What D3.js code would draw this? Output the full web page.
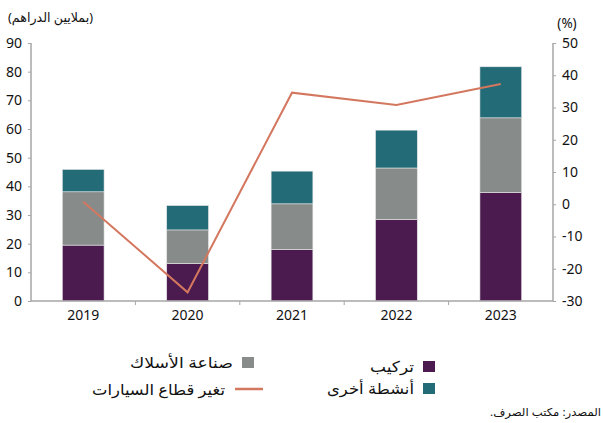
<!DOCTYPE html>
<html>
<head>
<meta charset="utf-8">
<script src="https://cdn.jsdelivr.net/npm/d3@7"></script>
<style>
  body { margin: 0; background: #fff; }
  svg text { font-family: "Noto Sans", "DejaVu Sans", sans-serif; }
</style>
</head>
<body>
<div id="chart"></div>
<script>
(function () {
    // data
    const years = ["2019", "2020", "2021", "2022", "2023"];
    const assembly = [19.5, 13.1, 18.0, 28.5, 37.9];   // تركيب
    const wiring = [18.6, 11.7, 15.9, 17.9, 26.0];     // صناعة الأسلاك
    const other = [7.8, 8.5, 11.4, 13.2, 17.8];        // أنشطة أخرى
    const autoChange = [0.8, -27.3, 34.6, 30.8, 37.3]; // تغير قطاع السيارات (%)
    const leftTicks = [0, 10, 20, 30, 40, 50, 60, 70, 80, 90];
    const rightTicks = [-30, -20, -10, 0, 10, 20, 30, 40, 50];

    const seriesNames = ["تركيب", "صناعة الأسلاك", "أنشطة أخرى"];
    const colors = ["#4b1b50", "#878b8a", "#226b77"];
    const lineColor = "#d4775f";
    const axisColor = "#a6a6a6";

    const width = 603, height = 423;
    const left = 31, right = 553, top = 43, bottom = 301;

    const rows = years.map((y, i) => ({ year: y, a: assembly[i], w: wiring[i], o: other[i] }));
    const stack = d3.stack().keys(["a", "w", "o"])(rows);

    const x = d3.scaleBand().domain(years).range([left, right]).paddingInner(0.6).paddingOuter(0.3);
    const xb = d3.scaleBand().domain(years).range([left, right]);
    const y = d3.scaleLinear().domain([0, 90]).range([bottom, top]);
    const y2 = d3.scaleLinear().domain([-30, 50]).range([bottom, top]);

    const svg = d3.select("#chart").append("svg").attr("width", width).attr("height", height);

    // bars
    svg.append("g")
        .selectAll("g")
        .data(stack)
        .join("g")
        .attr("fill", (d, i) => colors[i])
        .selectAll("rect")
        .data(d => d)
        .join("rect")
        .attr("x", d => x(d.data.year))
        .attr("width", x.bandwidth())
        .attr("y", d => y(d[1]))
        .attr("height", d => y(d[0]) - y(d[1]))
        .attr("stroke", "#e6e6e6")
        .attr("stroke-width", 0.6);

    // axes
    const fmt = d => String(d);
    const gl = svg.append("g").attr("transform", `translate(${left},0)`)
        .call(d3.axisLeft(y).tickValues(leftTicks).tickFormat(fmt).tickSize(3).tickPadding(6));
    const gr = svg.append("g").attr("transform", `translate(${right},0)`)
        .call(d3.axisRight(y2).tickValues(rightTicks).tickFormat(fmt).tickSize(3).tickPadding(6));
    const gb = svg.append("g").attr("transform", `translate(0,${bottom})`)
        .call(d3.axisBottom(xb).tickSize(0).tickPadding(9));
    gb.selectAll(".bound")
        .data(years.slice(1))
        .join("line")
        .attr("class", "bound")
        .attr("x1", d => xb(d)).attr("x2", d => xb(d))
        .attr("y1", 0).attr("y2", 4)
        .attr("stroke", axisColor);

    [gl, gr, gb].forEach(g => {
        g.selectAll(".domain").attr("stroke", axisColor).attr("stroke-width", 1.5);
        g.selectAll(".tick line").attr("stroke", axisColor);
        g.selectAll("text").attr("font-size", 14).attr("fill", "#111");
    });
    gl.select(".domain").attr("d", `M0,${top}V${bottom}`);
    gr.select(".domain").attr("d", `M0,${top}V${bottom}`);
    gb.select(".domain").attr("d", `M${left},0H${right}`);

    // line
    const line = d3.line()
        .x((d, i) => x(years[i]) + x.bandwidth() / 2)
        .y(d => y2(d));
    svg.append("path")
        .datum(autoChange)
        .attr("d", line)
        .attr("fill", "none")
        .attr("stroke", lineColor)
        .attr("stroke-width", 2);

    // arabic text helper, right edge at xr
    const arText = (sel, xr, yb, size, w, s) => sel.append("text")
        .attr("x", xr).attr("y", yb)
        .attr("direction", "rtl").attr("text-anchor", "start")
        .attr("font-family", "'DejaVu Sans', sans-serif")
        .attr("font-size", size).attr("fill", "#111")
        .attr("textLength", w).attr("lengthAdjust", "spacingAndGlyphs")
        .text(s);

    // unit labels
    arText(svg, 93, 22, 13, 85, "(بملايين الدراهم)");
    svg.append("text").attr("x", 567).attr("y", 28)
        .attr("text-anchor", "middle")
        .attr("font-size", 13.5).attr("fill", "#111")
        .text("(%)");

    // legend
    const legend = svg.append("g");
    const boxes = [
        { name: seriesNames[0], color: colors[0], x: 423, y: 361, w: 44 },
        { name: seriesNames[2], color: colors[2], x: 423, y: 383, w: 87 },
        { name: seriesNames[1], color: colors[1], x: 242, y: 357, w: 103 }
    ];
    boxes.forEach(b => {
        legend.append("rect").attr("x", b.x).attr("y", b.y).attr("width", 12).attr("height", 11).attr("fill", b.color);
        arText(legend, b.x - 9, b.y + 11, 15, b.w, b.name);
    });
    legend.append("line").attr("x1", 235).attr("x2", 263).attr("y1", 389).attr("y2", 389)
        .attr("stroke", lineColor).attr("stroke-width", 2.5);
    arText(legend, 225, 395, 15, 133, "تغير قطاع السيارات");

    // source
    arText(svg, 601, 416, 11, 111, "المصدر: مكتب الصرف.");
})();
</script>
</body>
</html>
